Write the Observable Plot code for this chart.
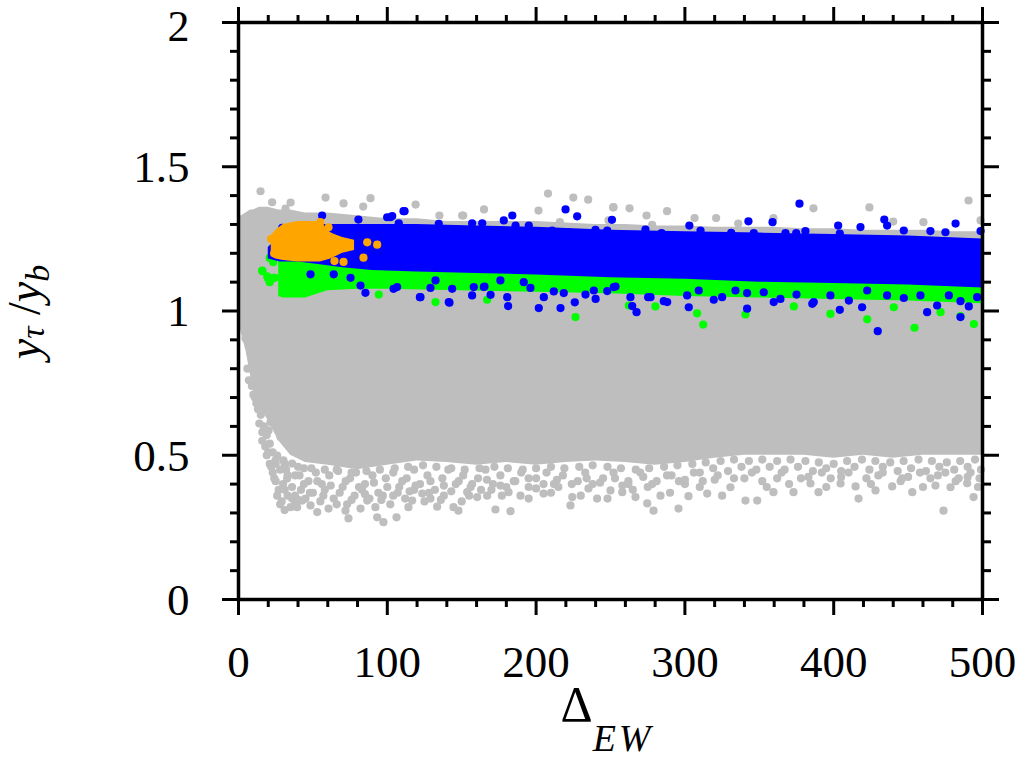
<!DOCTYPE html>
<html><head><meta charset="utf-8">
<script src="https://cdn.jsdelivr.net/npm/d3@7"></script>
<script src="https://cdn.jsdelivr.net/npm/@observablehq/plot@0.6"></script>
<style>body{margin:0;background:#fff} svg{display:block}</style>
</head><body><div id="chart"></div>
<script>
// ---- tick values ----
const xMajorTicks = [0, 100, 200, 300, 400, 500];
const xMinorTicks = [20,40,60,80,120,140,160,180,220,240,260,280,320,340,360,380,420,440,460,480];
const yMajorTicks = [0, 0.5, 1, 1.5, 2];
const yTickLabels = ["0", "0.5", "1", "1.5", "2"];
const yMinorTicks = [0.1,0.2,0.3,0.4,0.6,0.7,0.8,0.9,1.1,1.2,1.3,1.4,1.6,1.7,1.8,1.9];

// ---- dense gray core (upper / lower edge) ----
const grayX      = [0, 2, 5, 8, 10, 14, 20, 27, 35, 45, 60, 80, 100, 120, 140, 160, 180, 200, 220, 240, 260, 280, 300, 320, 340, 360, 380, 400, 420, 440, 460, 480, 500];
const grayTop    = [1.33,1.33,1.34,1.35,1.35,1.36,1.36,1.35,1.35,1.34,1.34,1.33,1.32,1.32,1.31,1.31,1.31,1.31,1.305,1.30,1.30,1.295,1.295,1.29,1.29,1.29,1.285,1.285,1.28,1.28,1.28,1.275,1.275];
const grayBottom = [0.967,0.92,0.863,0.78,0.724,0.672,0.62,0.55,0.50,0.475,0.465,0.45,0.465,0.48,0.475,0.465,0.475,0.465,0.475,0.48,0.475,0.465,0.475,0.49,0.50,0.50,0.50,0.49,0.50,0.49,0.50,0.50,0.50];

// sparse gray points outside the dense core
const grayFringe = [
 [4.7,0.905],[12.6,0.719],[14.8,0.697],[20.2,0.655],[21.5,0.615],[20.2,0.586],[28.2,0.563],[26,0.499],[24.9,0.482],[30.2,0.482],
 [36,0.471],[32.7,0.419],[36,0.350],[39.4,0.320],[42.8,0.343],[48.4,0.326],[52.9,0.303],[60.5,0.315],[71.9,0.308],[73.9,0.281],
 [82,0.315],[86.5,0.343],[93.2,0.285],[97.4,0.268],[106.2,0.285],[116.7,0.343],[114.2,0.320],[123.5,0.367],[129,0.350],[133.5,0.322],
 [144.5,0.320],[147.8,0.308],[153.7,0.372],[160.4,0.355],[167.1,0.360],[172.7,0.312],[182.8,0.306],[181.5,0.372],[189.5,0.360],[205,0.367],
 [224.3,0.355],[223.1,0.326],[241,0.350],[235.2,0.385],[250,0.378],[257.9,0.372],[266.8,0.355],[274.7,0.333],[278.9,0.308],[283.6,0.360],
 [295.7,0.315],[302.4,0.358],[315,0.367],[330.6,0.389],[340.7,0.343],[348.6,0.343],[359.5,0.372],[373,0.372],[389.8,0.372],[384.4,0.402],
 [404.6,0.402],[414.7,0.392],[416.7,0.350],[428.1,0.378],[439.3,0.392],[452.8,0.372],[468.4,0.395],[473.8,0.308],[489.7,0.403],[494,0.355],[478.5,0.389],
 [32,0.45],[38,0.43],[44,0.455],[47,0.41],[52,0.44],[56,0.40],[61,0.43],[66,0.45],[70,0.39],[75,0.42],[79,0.44],[85,0.40],[90,0.43],[94,0.37],
 [99,0.42],[104,0.44],[108,0.39],[113,0.42],[118,0.45],[122,0.40],[127,0.43],[132,0.38],[137,0.42],[141,0.45],[146,0.40],[151,0.43],[156,0.39],
 [161,0.42],[166,0.45],[171,0.40],[176,0.43],[185,0.41],[190,0.44],[195,0.39],[200,0.42],[207,0.44],[212,0.40],[218,0.43],[228,0.41],[233,0.44],
 [245,0.42],[252,0.44],[262,0.41],[270,0.44],[278,0.40],[288,0.43],[296,0.41],[306,0.44],[312,0.41],[322,0.43],[333,0.42],[345,0.44],[352,0.41],
 [365,0.44],[378,0.42],[392,0.44],[398,0.42],[410,0.44],[422,0.42],[433,0.44],[446,0.42],[458,0.44],[465,0.42],[475,0.44],[484,0.42],[492,0.44],[498,0.42],
 [6,0.80],[9,0.74],[11,0.70],[13,0.66],[15,0.64],[17,0.60],[19,0.57],[16,0.55],[21,0.54],[23,0.51],[19,0.50],[25,0.47],[22,0.46],[28,0.45],[24,0.42],
 [30,0.40],[27,0.38],[33,0.36],[29,0.34],[35,0.32],[38,0.36],[42,0.38],[45,0.35],[50,0.37],[55,0.34],[58,0.38],[64,0.35],[68,0.37],[73,0.33],[78,0.36],
 [83,0.38],[88,0.35],[92,0.32],[97,0.36],[102,0.33],[107,0.37],[112,0.35],[118,0.38],[125,0.34],[138,0.36],[150,0.34],[163,0.38],[177,0.36],[195,0.35],
 [210,0.37],[230,0.36],[248,0.35],[265,0.38],[290,0.37],[310,0.39],[325,0.36],[355,0.39],[370,0.40],[395,0.39],[425,0.40],[445,0.41],[460,0.39],[482,0.41],[497,0.39],
 [31,0.47],[40,0.46],[49,0.455],[58,0.45],[67,0.445],[76,0.44],[86,0.445],[95,0.45],[105,0.455],[114,0.46],[124,0.465],[133,0.46],[143,0.455],[152,0.45],
 [162,0.455],[172,0.46],[181,0.455],[191,0.45],[200,0.455],[210,0.46],[219,0.455],[229,0.46],[238,0.465],[248,0.46],[257,0.455],[267,0.45],[276,0.455],
 [286,0.46],[295,0.465],[305,0.47],[314,0.475],[324,0.48],[333,0.485],[343,0.48],[352,0.485],[362,0.48],[371,0.485],[381,0.48],[390,0.475],[400,0.47],
 [409,0.48],[419,0.485],[428,0.48],[438,0.475],[447,0.48],[457,0.485],[466,0.48],[476,0.475],[485,0.48],[495,0.485],
 [44,0.40],[53,0.41],[62,0.395],[72,0.41],[81,0.39],[91,0.405],[100,0.39],[110,0.41],[119,0.395],[129,0.41],[138,0.395],[148,0.41],[157,0.40],[167,0.415],
 [176,0.395],[186,0.41],[195,0.42],[205,0.40],[214,0.415],[224,0.40],[234,0.42],[243,0.405],[253,0.42],[262,0.40],[272,0.425],[281,0.41],[291,0.43],
 [300,0.415],[310,0.44],[319,0.455],[329,0.445],[338,0.46],[348,0.45],[357,0.46],[367,0.45],[376,0.46],[386,0.445],[395,0.455],[405,0.445],[414,0.46],
 [424,0.45],[433,0.46],[443,0.445],[452,0.455],[462,0.445],[471,0.46],[481,0.45],[490,0.46],[499,0.45],
 [40,0.345],[48,0.37],[57,0.36],[66,0.33],[76,0.345],[85,0.365],[96,0.345],[104,0.36],[115,0.375],[128,0.37],[136,0.345],[143,0.375],[155,0.36],
 [170,0.38],[180,0.39],[200,0.385],[215,0.39],[238,0.40],[258,0.395],[275,0.39],[300,0.40],[320,0.415],[340,0.42],[362,0.42],[383,0.425],[405,0.425],
 [430,0.43],[450,0.425],[470,0.43],[490,0.425],
 [7,0.76],[10,0.71],[12,0.68],[14,0.61],[16,0.58],[18,0.53],[20,0.51],[21,0.47],[23,0.44],[25,0.41],[26,0.36],[28,0.33],[31,0.38],[33,0.43],[36,0.39],
 [38,0.33],[41,0.43],[31,0.31],
 [14.8,1.415],[22.6,1.377],[35,1.376],[58.5,1.393],[88.7,1.391],[119,1.369],[135,1.331],[151,1.331],[83.8,1.362],[70.6,1.373],[31.6,1.355],
 [208,1.407],[225,1.393],[235,1.386],[252,1.36],[150.3,1.331],[165,1.352],[201.6,1.348],[216,1.308],
 [251.8,1.359],[262.8,1.356],[274.2,1.331],[288,1.346],[306.5,1.322],[321,1.322],[335.8,1.303],[359.5,1.322],[386.4,1.356],[424,1.359],
 [440,1.31],[460.3,1.308],[490.6,1.383],[498.7,1.314],[278,1.299],[248.7,1.314]
];

// ---- green band ----
const greenX      = [27, 30, 45, 60, 80, 100, 150, 200, 250, 300, 350, 400, 450, 500];
const greenTop    = [1.19,1.19,1.18,1.17,1.17,1.16,1.15,1.15,1.14,1.13,1.13,1.12,1.12,1.11];
const greenBottom = [1.05,1.045,1.045,1.07,1.075,1.075,1.07,1.065,1.06,1.05,1.045,1.04,1.035,1.025];
const greenPoints = [
 [312.3,0.953],[308.2,0.992],[340.7,0.988],[422.5,0.971],[454.3,0.942],[494.2,0.955],[485.2,0.982],[471.8,0.996],[440.4,1.013],
 [373.2,1.016],[397.8,0.99],[280.2,1.016],[262.3,1.019],[226.5,0.979],[132.4,1.031],[167.1,1.039],[94.3,1.057],
 [16.1,1.138],[20,1.112],[21,1.1],[24.4,1.115],[22.2,1.187],[23.3,1.169],[15.9,1.14],[19.3,1.12],[23.7,1.115],[21,1.184]
];

// ---- blue band ----
const blueX      = [20, 28, 40, 55, 70, 90, 120, 160, 200, 250, 300, 350, 400, 450, 500];
const blueTop    = [1.22,1.26,1.29,1.30,1.30,1.30,1.30,1.295,1.29,1.28,1.275,1.27,1.265,1.26,1.25];
const blueBottom = [1.18,1.17,1.17,1.16,1.15,1.14,1.135,1.13,1.125,1.115,1.11,1.10,1.095,1.09,1.08];
const bluePoints = [
 [377,1.372],[251,1.316],[303,1.296],[342.7,1.311],[358.9,1.308],[403,1.296],[434,1.317],[481.9,1.303],[273.5,1.282],[374.8,1.27],
 [111.6,1.346],[184,1.331],[219.8,1.352],[227.6,1.328],[102,1.325],[110.9,1.346],[29.4,1.288],[56.2,1.331],[80.6,1.317],[103.3,1.329],
 [99.9,1.325],[107.7,1.304],[134.6,1.302],[157,1.304],[163.8,1.304],[178.3,1.314],[186.2,1.296],[195.1,1.296],[210.8,1.279],[222,1.273],
 [239.9,1.281],[247.8,1.279],[284.3,1.27],[294.4,1.254],[310.5,1.279],[331.1,1.271],[346.3,1.27],[367.6,1.27],[381,1.277],[404.1,1.268],
 [418,1.291],[435.9,1.296],[447.1,1.279],[465,1.277],[475.1,1.273],[498.7,1.277],[484.1,1.238],
 [121.9,1.048],[141.8,1.029],[157,1.054],[169.4,1.056],[180.6,1.048],[181.2,1.017],[201.8,1.01],[216.4,1.01],[226,1.03],[205.2,1.048],
 [240,1.042],[104.2,1.077],[129,1.08],[267.5,0.996],[264.6,1.017],[302.6,1.013],[341.8,1.008],[404.1,1.004],[429.6,0.93],[462.8,0.996],
 [485.2,0.979],[288.1,1.031],[319.4,1.039],[385.6,1.025],[419.1,1.013],[469.5,1.019],[490.8,1.016],[252.2,1.083],[275.3,1.048],[359.7,1.031],
 [85.3,1.063],[82,1.088],[122.3,1.048],[141.3,1.031],[48.4,1.127],[64,1.127],[75.3,1.115],[165.3,1.085],
 [106.6,1.083],[132.4,1.106],[143.6,1.077],[158.1,1.083],[164.9,1.083],[176,1.106],[191.7,1.10],[196.2,1.08],[211.9,1.068],[218.6,1.062],
 [233.2,1.057],[238.8,1.071],[247.8,1.069],[253.4,1.085],[263.4,1.048],[276.9,1.048],[285.8,1.034],[301.5,1.054],[309.3,1.071],[325,1.048],
 [334,1.071],[341.8,1.062],[353,1.065],[364.2,1.042],[375,1.057],[386.6,1.031],[397.8,1.054],[410.2,1.036],[422.5,1.071],[435.9,1.054],
 [447.1,1.045],[458.3,1.054],[477.4,1.054],[485.2,1.034],[496.4,1.048]
];

// ---- orange blob ----
const orangeX      = [22, 25, 30, 40, 50, 55, 62, 70, 78];
const orangeTop    = [1.26,1.28,1.30,1.31,1.31,1.31,1.27,1.255,1.245];
const orangeBottom = [1.19,1.18,1.175,1.17,1.17,1.17,1.18,1.20,1.21];
const orangePoints = [[86.5,1.238],[93.2,1.23],[84,1.185],[70.6,1.17],[64.5,1.173],[55,1.308],[60.5,1.29],[60.5,1.26],[22,1.25],[24,1.2]];

const GRAY = "#bebebe", GREEN = "#00ff00", BLUE = "#0000ff", ORANGE = "#ffa500";
const band = (xs, lo, hi) => xs.map((x, i) => ({x, y1: lo[i], y2: hi[i]}));
const R = 4.1;
const FONT = "'Liberation Serif', 'Times New Roman', serif";
const yLabelRows = yMajorTicks.map((v, i) => ({v, label: yTickLabels[i]}));

const plot = Plot.plot({
  width: 1025, height: 762,
  marginLeft: 238, marginRight: 43, marginTop: 22, marginBottom: 163,
  x: {domain: [0, 500]},
  y: {domain: [0, 2]},
  style: {fontFamily: FONT, background: "white", color: "black"},
  marks: [
    Plot.areaY(band(grayX, grayBottom, grayTop), {x: "x", y1: "y1", y2: "y2", fill: GRAY}),
    Plot.dot(grayFringe, {x: d => d[0], y: d => d[1], r: R, fill: GRAY}),
    Plot.areaY(band(greenX, greenBottom, greenTop), {x: "x", y1: "y1", y2: "y2", fill: GREEN}),
    Plot.dot(greenPoints, {x: d => d[0], y: d => d[1], r: R, fill: GREEN}),
    Plot.areaY(band(blueX, blueBottom, blueTop), {x: "x", y1: "y1", y2: "y2", fill: BLUE}),
    Plot.dot(bluePoints, {x: d => d[0], y: d => d[1], r: R, fill: BLUE}),
    Plot.areaY(band(orangeX, orangeBottom, orangeTop), {x: "x", y1: "y1", y2: "y2", fill: ORANGE}),
    Plot.dot(orangePoints, {x: d => d[0], y: d => d[1], r: R, fill: ORANGE}),

    Plot.axisX(xMajorTicks, {anchor: "bottom", tickSize: 16, strokeWidth: 3, tickFormat: () => "", label: null}),
    Plot.axisX(xMinorTicks, {anchor: "bottom", tickSize: 8, strokeWidth: 3, tickFormat: () => "", label: null}),
    Plot.axisX(xMajorTicks, {anchor: "top", tickSize: 16, strokeWidth: 3, tickFormat: () => "", label: null}),
    Plot.axisX(xMinorTicks, {anchor: "top", tickSize: 8, strokeWidth: 3, tickFormat: () => "", label: null}),
    Plot.axisY(yMajorTicks, {anchor: "left", tickSize: 16, strokeWidth: 3, tickFormat: () => "", label: null}),
    Plot.axisY(yMinorTicks, {anchor: "left", tickSize: 8, strokeWidth: 3, tickFormat: () => "", label: null}),
    Plot.axisY(yMajorTicks, {anchor: "right", tickSize: 16, strokeWidth: 3, tickFormat: () => "", label: null}),
    Plot.axisY(yMinorTicks, {anchor: "right", tickSize: 8, strokeWidth: 3, tickFormat: () => "", label: null}),
    Plot.frame({stroke: "black", strokeWidth: 3.5}),

    Plot.text(xMajorTicks, {x: d => d, text: d => String(d), frameAnchor: "bottom", dy: 63, lineAnchor: "middle", fontSize: 45, fill: "black"}),
    Plot.text(yLabelRows.filter(d => d.v < 2), {y: "v", text: "label", frameAnchor: "left", dx: -49, dy: 1, textAnchor: "end", lineAnchor: "middle", fontSize: 45, fill: "black"}),
    Plot.text(yLabelRows.filter(d => d.v === 2), {y: "v", text: "label", frameAnchor: "left", dx: -49, dy: 4, textAnchor: "end", lineAnchor: "middle", fontSize: 44, fill: "black"})
  ]
});

const svg = d3.select(plot);
// x-axis label: Δ_EW
const xl = svg.append("text")
  .attr("x", 607).attr("y", 721)
  .attr("text-anchor", "middle")
  .attr("font-family", FONT).attr("font-size", 50).attr("fill", "black");
xl.append("tspan").text("Δ");
xl.append("tspan").attr("font-style", "italic").attr("font-size", 38).attr("letter-spacing", 3).attr("dy", 30).text("EW");

// y-axis label: y_τ / y_b  (rotated)
const yl = svg.append("text")
  .attr("transform", "translate(40,312) rotate(-90)")
  .attr("text-anchor", "middle")
  .attr("font-family", FONT).attr("font-size", 46).attr("fill", "black");
yl.append("tspan").attr("font-style", "italic").text("y");
yl.append("tspan").attr("font-style", "italic").attr("font-size", 34).attr("dy", 4).text("τ");
yl.append("tspan").attr("dy", -4).text(" /");
yl.append("tspan").attr("font-style", "italic").text("y");
yl.append("tspan").attr("font-style", "italic").attr("font-size", 34).attr("dy", 9).text("b");

document.getElementById("chart").appendChild(plot);
</script>
</body></html>
